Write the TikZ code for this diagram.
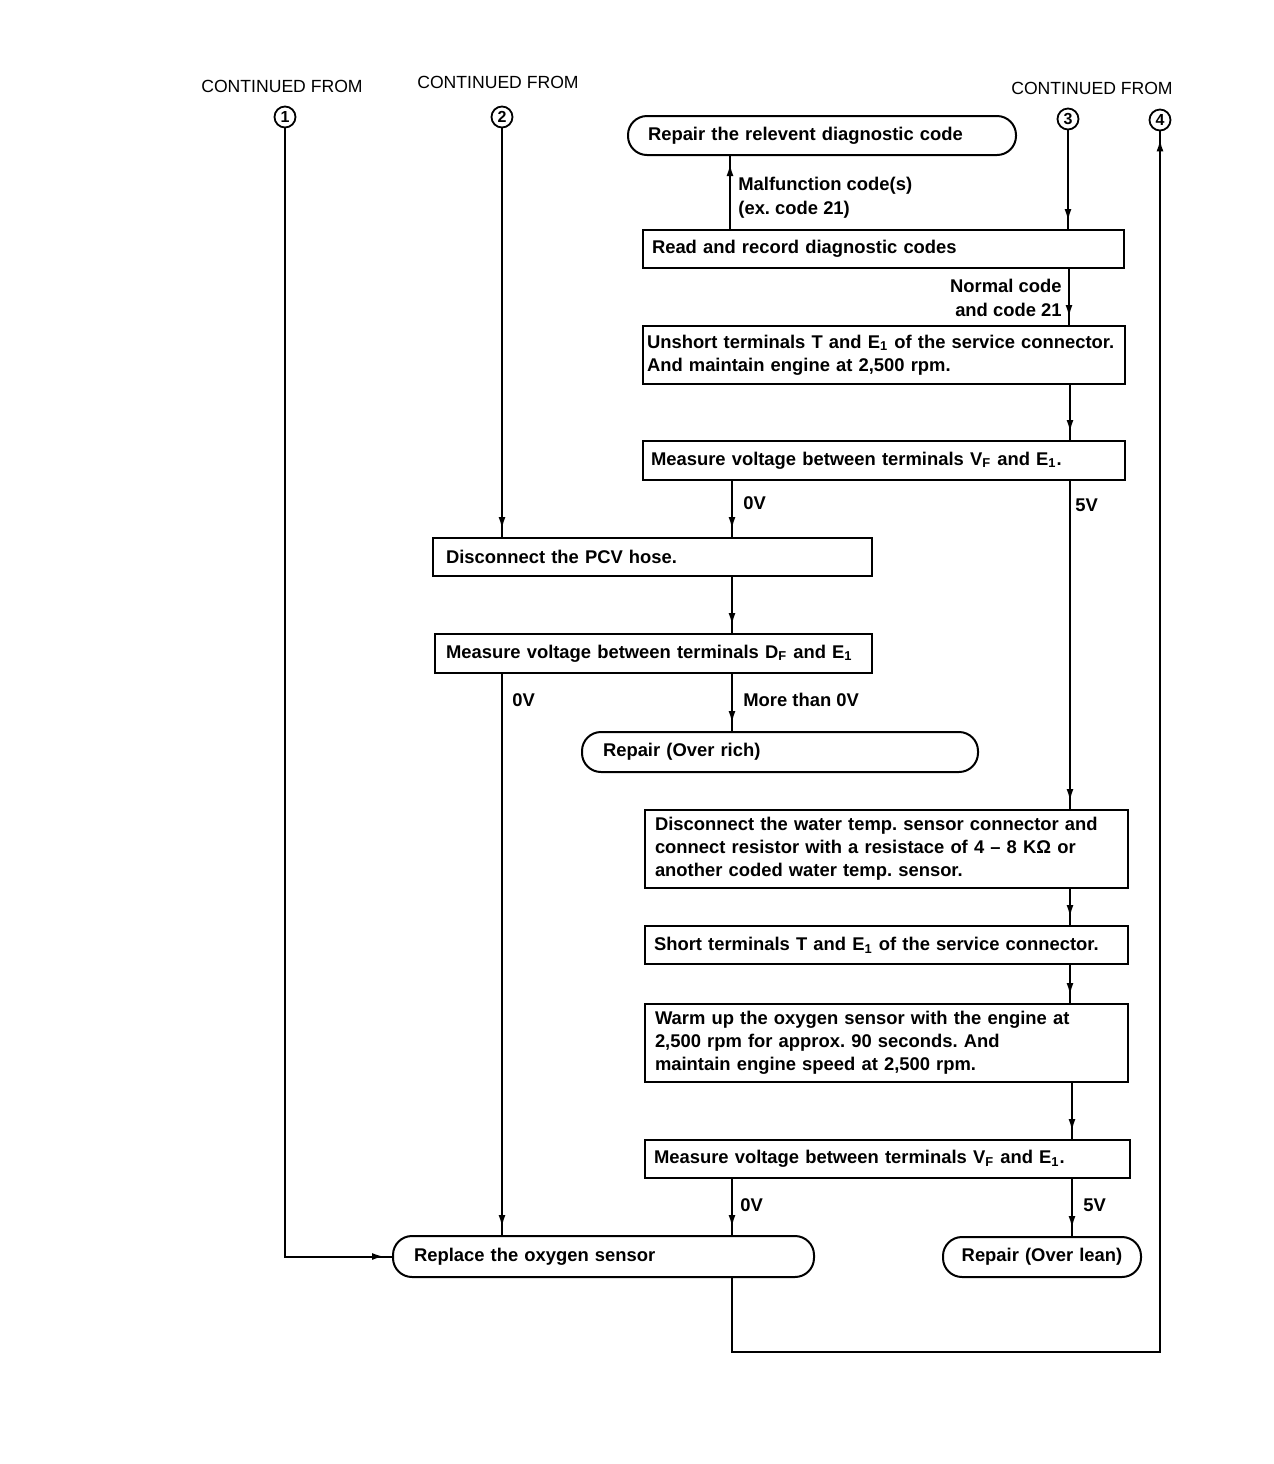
\documentclass[tikz,border=0pt]{standalone}
\usepackage{fontspec}
\setmainfont{Liberation Sans}
\usetikzlibrary{arrows.meta,decorations.markings}
\frenchspacing
\tikzset{
  box/.style={draw, line width=1pt, rectangle, align=left, inner ysep=0pt,
    font=\bfseries\fontsize{9.2}{11.6}\selectfont},
  stad/.style={box, rounded corners=9.5pt},
  lbl/.style={font=\bfseries\fontsize{9.2}{12}\selectfont, inner sep=0pt, align=left},
  hdr/.style={font=\fontsize{8.8}{10}\selectfont, inner sep=0pt},
  circ/.style={draw, circle, line width=0.9pt, minimum size=10.5pt, inner sep=0pt,
    font=\bfseries\fontsize{8}{8}\selectfont},
  wire/.style={line width=1pt},
  flow/.style={wire, postaction={decorate}, decoration={markings,
    mark=at position -4pt with {\arrow{Latex[length=6pt,width=3.5pt]}}}},
}
\begin{document}
\begin{tikzpicture}[x=0.5pt, y=-0.5pt]
\useasboundingbox (0,0) rectangle (1274,1464);

% headers
\node[hdr] (h1) at (282,86) {CONTINUED FROM};
\node[hdr] (h2) at (498,82) {CONTINUED FROM};
\node[hdr] (h3) at (1092,88) {CONTINUED FROM};

% circles
\node[circ] (c1) at (285,117) {1};
\node[circ] (c2) at (502,117) {2};
\node[circ] (c3) at (1068,119) {3};
\node[circ] (c4) at (1160,120) {4};

% boxes
\node[stad, minimum width=194pt, minimum height=19.5pt, text width=174pt, inner xsep=10pt]
  (relevant) at (822,135.5) {Repair the relevent diagnostic code};
\node[box, minimum width=240.5pt, minimum height=19pt, text width=231.5pt, inner xsep=4.5pt]
  (read) at (883.5,249) {Read and record diagnostic codes};
\node[box, minimum width=241pt, minimum height=29pt, text width=237pt, inner xsep=2pt]
  (unshort) at (884,355) {Unshort terminals T and E\textsubscript{1} of the service connector.\\And maintain engine at 2,500 rpm.};
\node[box, minimum width=241pt, minimum height=19.5pt, text width=233pt, inner xsep=4pt]
  (mvf1) at (884,460.5) {Measure voltage between terminals V\textsubscript{F} and E\textsubscript{1}.};
\node[box, minimum width=219.5pt, minimum height=19pt, text width=206.5pt, inner xsep=6.5pt]
  (pcv) at (652.5,557) {Disconnect the PCV hose.};
\node[box, minimum width=218.5pt, minimum height=19.5pt, text width=207.5pt, inner xsep=5.5pt]
  (mdf) at (653.5,653.5) {Measure voltage between terminals D\textsubscript{F} and E\textsubscript{1}};
\node[stad, minimum width=198pt, minimum height=20pt, text width=177pt, inner xsep=10.5pt]
  (rich) at (780,752) {Repair (Over rich)};
\node[box, minimum width=241.5pt, minimum height=39pt, text width=231.5pt, inner xsep=5pt]
  (water) at (886.5,849) {Disconnect the water temp. sensor connector and\\connect resistor with a resistace of 4 \textendash\ 8 KΩ or\\another coded water temp. sensor.};
\node[box, minimum width=241.5pt, minimum height=19pt, text width=232.5pt, inner xsep=4.5pt]
  (short) at (886.5,945) {Short terminals T and E\textsubscript{1} of the service connector.};
\node[box, minimum width=241.5pt, minimum height=39pt, text width=231.5pt, inner xsep=5pt]
  (warm) at (886.5,1043) {Warm up the oxygen sensor with the engine at\\2,500 rpm for approx. 90 seconds. And\\maintain engine speed at 2,500 rpm.};
\node[box, minimum width=242.5pt, minimum height=19pt, text width=233.5pt, inner xsep=4.5pt]
  (mvf2) at (887.5,1159) {Measure voltage between terminals V\textsubscript{F} and E\textsubscript{1}.};
\node[stad, minimum width=210.5pt, minimum height=20.5pt, text width=189.5pt, inner xsep=10.5pt]
  (replace) at (603.5,1256.5) {Replace the oxygen sensor};
\node[stad, minimum width=99pt, minimum height=20pt, text width=88pt, inner xsep=5.5pt, align=center]
  (lean) at (1042,1257) {Repair (Over lean)};

% labels
\node[lbl, anchor=west] (lmal) at (738,198) {Malfunction code(s)\\(ex. code 21)};
\node[lbl, anchor=east, align=right] (lnorm) at (1062,298) {Normal code\\and code 21};
\node[lbl, anchor=west] (l0a) at (743,503) {0V};
\node[lbl, anchor=west] (l5a) at (1075,505) {5V};
\node[lbl, anchor=west] (l0b) at (512,700) {0V};
\node[lbl, anchor=west] (lmore) at (743,700) {More than 0V};
\node[lbl, anchor=west] (l0c) at (740,1205) {0V};
\node[lbl, anchor=west] (l5c) at (1083,1205) {5V};

% connectors
\draw[flow] (730,0 |- read.north) -- (730,0 |- relevant.south);
\draw[flow] (c3.south) -- (c3 |- read.north);
\draw[flow] (1069,0 |- read.south) -- (1069,0 |- unshort.north);
\draw[flow] (1070,0 |- unshort.south) -- (1070,0 |- mvf1.north);
\draw[flow] (732,0 |- mvf1.south) -- (732,0 |- pcv.north);
\draw[flow] (c2.south) -- (c2 |- pcv.north);
\draw[flow] (1070,0 |- mvf1.south) -- (1070,0 |- water.north);
\draw[flow] (732,0 |- pcv.south) -- (732,0 |- mdf.north);
\draw[flow] (732,0 |- mdf.south) -- (732,0 |- rich.north);
\draw[flow] (502,0 |- mdf.south) -- (502,0 |- replace.north);
\draw[flow] (1070,0 |- water.south) -- (1070,0 |- short.north);
\draw[flow] (1070,0 |- short.south) -- (1070,0 |- warm.north);
\draw[flow] (1072,0 |- warm.south) -- (1072,0 |- mvf2.north);
\draw[flow] (732,0 |- mvf2.south) -- (732,0 |- replace.north);
\draw[flow] (1072,0 |- mvf2.south) -- (1072,0 |- lean.north);
\draw[flow] (c1.south) -- (c1 |- replace.west) -- (replace.west);
\draw[flow] (732,0 |- replace.south) -- (732,1352) -- (1160,1352) -- (c4.south);
\end{tikzpicture}
\end{document}
